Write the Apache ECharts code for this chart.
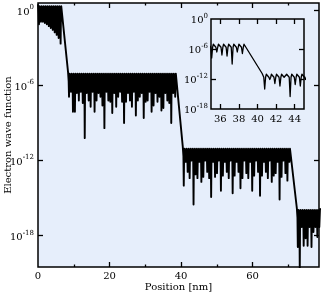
<!DOCTYPE html>
<html><head><meta charset="utf-8">
<script src="https://cdn.jsdelivr.net/npm/echarts@6/dist/echarts.min.js"></script>
<style>html,body{margin:0;padding:0;background:#fff}#c{width:321px;height:294px}</style>
</head><body><div id="c"></div>
<script>
// log10 of the electron wave function
const plateauStarts  = [0, 8.4, 40.5, 72.4];     // nm
const plateauPeriods = [0.55, 0.55, 0.547, 0.547]; // nm
const plateauTops    = [0.5, -4.9, -10.9, -15.8]; // decades
const dips1 = [-1.1,-0.9,-0.9,-1.0,-1.1,-1.25,-1.4,-1.55,-1.75,-1.95,-2.2,-2.65];
const dips2 = [-6.9,-6.5,-8.1,-8.1,-6.6,-7.2,-6.5,-7.4,-10.2,-6.6,
 -7.2,-7.7,-6.5,-8.1,-7.2,-6.6,-6.9,-7.6,-9.4,-6.5,
 -7.2,-7.3,-8.2,-6.6,-7.7,-6.9,-6.5,-7.3,-9.0,-7.3,
 -6.6,-7.2,-7.7,-6.5,-8.4,-7.2,-6.9,-6.6,-8.6,-7.3,
 -7.2,-6.5,-8.1,-7.6,-6.6,-7.3,-6.9,-8.0,-7.8,-6.6,
 -7.2,-7.4,-9.0,-6.6,-6.9];
const dips3 = [-14.0,-12.1,-12.9,-13.4,-12.0,-15.5,-13.1,-13.4,-12.1,-13.7,
 -13.3,-12.0,-12.9,-13.4,-14.9,-12.1,-13.3,-13.0,-12.0,-14.4,
 -13.2,-12.1,-12.9,-13.4,-12.0,-14.6,-13.2,-12.1,-12.9,-14.2,
 -13.4,-12.0,-13.0,-13.4,-12.1,-14.4,-13.2,-12.0,-12.9,-14.8,
 -13.2,-12.1,-12.9,-13.4,-12.0,-13.7,-13.2,-13.0,-12.1,-15.1,
 -13.3,-12.0,-13.0,-13.6,-12.1];
const dips4 = [-18.9,-20.8,-17.3,-18.8,-18.2,-18.8,-17.3,-18.9,-17.7,-17.3,-18.1,-17.3];
// hump shape between a maximum and a dip (fraction of period, offset in decades)
const humpShape = [[0.18,-0.15],[0.32,-0.75]];
const mainYTicks = [0,-6,-12,-18];
const mainXLabels = [0,20,40,60];
const mainXMajor = [20,40,60];
const mainXMinor = [10,30,50,70];
const insetXTicks = [36,38,40,42,44];
const insetYLabels = [0,-6,-12,-18];
const insetYTicks = [-6,-12];

const allDips = [dips1, dips2, dips3, dips4];
const data = [];
allDips.forEach((dips, k) => {
  const x0 = plateauStarts[k], p = plateauPeriods[k], top = plateauTops[k];
  data.push([x0, top]);
  dips.forEach((d, i) => {
    const a = x0 + i * p;
    data.push([a + humpShape[0][0]*p, top + humpShape[0][1]]);
    data.push([a + humpShape[1][0]*p, Math.max(d, top + humpShape[1][1])]);
    data.push([a + 0.5*p, d]);
    data.push([a + (1-humpShape[1][0])*p, Math.max(d, top + humpShape[1][1])]);
    data.push([a + (1-humpShape[0][0])*p, top + humpShape[0][1]]);
    data.push([a + p, top]);
  });
});

const FONT = 'DejaVu Serif';
const rich = {
  b: {fontFamily: FONT, fontSize: 10, color: '#000', lineHeight: 13, verticalAlign: 'bottom'},
  s: {fontFamily: FONT, fontSize: 7, color: '#000', lineHeight: 13, verticalAlign: 'top'}
};
const powFmt = v => '{b|10}{s|' + (v === 0 ? '0' : String(v)) + '}';
const tickStyle = {color: '#000', width: 1.3};
const hidden = {show: false};
const nameStyle = {fontFamily: FONT, fontSize: 10, color: '#000'};

const chart = echarts.init(document.getElementById('c'), null, {renderer: 'canvas'});
chart.setOption({
  animation: false,
  backgroundColor: '#fff',
  grid: [
    {left: 38, top: 3, right: 2, bottom: 27, show: true, backgroundColor: '#e6eefb', borderColor: '#000', borderWidth: 1.5, containLabel: false, outerBoundsMode: 'none'},
    {left: 211, top: 19, width: 93, height: 90, show: true, backgroundColor: '#e6eefb', borderColor: '#000', borderWidth: 1.5, containLabel: false, outerBoundsMode: 'none'}
  ],
  xAxis: [
    {gridIndex: 0, type: 'value', min: 0, max: 78.6, position: 'bottom', axisLine: {show: false, onZero: false}, splitLine: hidden,
     axisTick: {inside: true, length: 5, customValues: mainXMajor, lineStyle: tickStyle},
     axisLabel: {customValues: mainXLabels, margin: 4, fontFamily: FONT, fontSize: 10, color: '#000'},
     name: 'Position [nm]', nameLocation: 'middle', nameGap: 15, nameMoveOverlap: false, nameTextStyle: nameStyle},
    {gridIndex: 0, type: 'value', min: 0, max: 78.6, position: 'bottom', axisLine: {show: false, onZero: false}, splitLine: hidden,
     axisTick: {inside: true, length: 2.5, customValues: mainXMinor, lineStyle: tickStyle}, axisLabel: hidden},
    {gridIndex: 0, type: 'value', min: 0, max: 78.6, position: 'top', axisLine: {show: false, onZero: false}, splitLine: hidden,
     axisTick: {inside: true, length: 5, customValues: mainXMajor, lineStyle: tickStyle}, axisLabel: hidden},
    {gridIndex: 0, type: 'value', min: 0, max: 78.6, position: 'top', axisLine: {show: false, onZero: false}, splitLine: hidden,
     axisTick: {inside: true, length: 2.5, customValues: mainXMinor, lineStyle: tickStyle}, axisLabel: hidden},
    {gridIndex: 1, type: 'value', min: 35, max: 45, position: 'bottom', axisLine: {show: false, onZero: false}, splitLine: hidden,
     axisTick: {inside: true, length: 5, customValues: insetXTicks, lineStyle: tickStyle},
     axisLabel: {customValues: insetXTicks, margin: 5, fontFamily: FONT, fontSize: 10, color: '#000'}},
    {gridIndex: 1, type: 'value', min: 35, max: 45, position: 'top', axisLine: {show: false, onZero: false}, splitLine: hidden,
     axisTick: {inside: true, length: 5, customValues: insetXTicks, lineStyle: tickStyle}, axisLabel: hidden}
  ],
  yAxis: [
    {gridIndex: 0, type: 'value', min: -20.5, max: 0.6, position: 'left', axisLine: {show: false, onZero: false}, splitLine: hidden,
     axisTick: {inside: true, length: 5, customValues: mainYTicks, lineStyle: tickStyle},
     axisLabel: {customValues: mainYTicks, margin: 4, formatter: powFmt, rich: rich},
     name: 'Electron wave function', nameLocation: 'middle', nameGap: 25, nameMoveOverlap: false, nameTextStyle: nameStyle},
    {gridIndex: 0, type: 'value', min: -20.5, max: 0.6, position: 'right', axisLine: {show: false, onZero: false}, splitLine: hidden,
     axisTick: {inside: true, length: 5, customValues: mainYTicks, lineStyle: tickStyle}, axisLabel: hidden},
    {gridIndex: 1, type: 'value', min: -18, max: 0, position: 'left', axisLine: {show: false, onZero: false}, splitLine: hidden,
     axisTick: {inside: true, length: 5, customValues: insetYTicks, lineStyle: tickStyle},
     axisLabel: {customValues: insetYLabels, margin: 3, formatter: powFmt, rich: rich}},
    {gridIndex: 1, type: 'value', min: -18, max: 0, position: 'right', axisLine: {show: false, onZero: false}, splitLine: hidden,
     axisTick: {inside: true, length: 5, customValues: insetYTicks, lineStyle: tickStyle}, axisLabel: hidden}
  ],
  series: [
    {type: 'line', xAxisIndex: 0, yAxisIndex: 0, data: data, showSymbol: false, symbol: 'none', clip: true,
     lineStyle: {color: '#000', width: 1.9, join: 'round'}},
    {type: 'line', xAxisIndex: 4, yAxisIndex: 2, data: data, showSymbol: false, symbol: 'none', clip: true,
     lineStyle: {color: '#000', width: 1.3, join: 'round'}}
  ]
});
</script></body></html>
